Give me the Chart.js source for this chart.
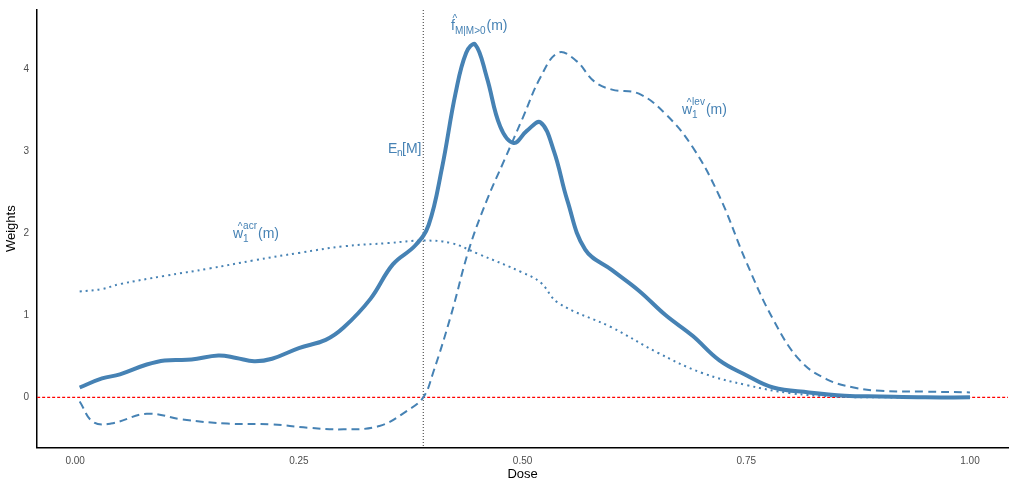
<!DOCTYPE html>
<html>
<head>
<meta charset="utf-8">
<script src="https://cdn.jsdelivr.net/npm/chart.js@4"></script>
<style>
  body { margin: 0; background: #fff; }
  #wrap { width: 1010px; height: 482px; }
</style>
</head>
<body>
<div id="wrap"><canvas id="chart"></canvas></div>
<script>
// ===== Data =====
const fDose = [0.005, 0.03, 0.05, 0.08, 0.1, 0.13, 0.16, 0.18, 0.2, 0.22, 0.25, 0.28, 0.3, 0.33, 0.355, 0.38, 0.395, 0.41, 0.425, 0.437, 0.447, 0.46, 0.475, 0.49, 0.505, 0.52, 0.535, 0.55, 0.57, 0.6, 0.63, 0.66, 0.69, 0.72, 0.75, 0.78, 0.82, 0.86, 0.9, 0.95, 1.0];
const fVals = [0.12, 0.23, 0.28, 0.4, 0.45, 0.46, 0.51, 0.48, 0.44, 0.47, 0.6, 0.7, 0.85, 1.2, 1.62, 1.85, 2.1, 2.8, 3.7, 4.2, 4.3, 3.9, 3.3, 3.1, 3.25, 3.35, 3.0, 2.4, 1.8, 1.55, 1.3, 1.0, 0.75, 0.45, 0.27, 0.12, 0.06, 0.02, 0.01, 0.0, 0.0];

const levDose = [0.005, 0.02, 0.04, 0.08, 0.12, 0.17, 0.22, 0.26, 0.3, 0.34, 0.37, 0.389, 0.4, 0.42, 0.44, 0.46, 0.48, 0.5, 0.52, 0.54, 0.56, 0.58, 0.6, 0.63, 0.66, 0.69, 0.72, 0.75, 0.78, 0.81, 0.84, 0.87, 0.9, 0.95, 1.0];
const levVals = [-0.05, -0.3, -0.32, -0.2, -0.27, -0.32, -0.33, -0.37, -0.39, -0.35, -0.17, 0.0, 0.3, 1.0, 1.8, 2.4, 2.9, 3.4, 3.9, 4.2, 4.1, 3.85, 3.75, 3.7, 3.45, 3.05, 2.45, 1.65, 0.95, 0.45, 0.22, 0.12, 0.08, 0.07, 0.06];

const acrDose = [0.005, 0.03, 0.05, 0.1, 0.15, 0.2, 0.25, 0.3, 0.35, 0.389, 0.42, 0.45, 0.5, 0.52, 0.54, 0.6, 0.65, 0.7, 0.75, 0.8, 0.85, 0.9, 1.0];
const acrVals = [1.29, 1.32, 1.38, 1.48, 1.57, 1.67, 1.76, 1.84, 1.88, 1.91, 1.88, 1.75, 1.52, 1.4, 1.15, 0.85, 0.55, 0.3, 0.15, 0.05, 0.01, 0.0, 0.0];

const meanDose = 0.389;
const xTicks = [0, 0.25, 0.5, 0.75, 1.0];
const yTicks = [0, 1, 2, 3, 4];

const blue = '#4682B4';
const pts = (xs, ys) => xs.map((x, i) => ({ x, y: ys[i] }));

// ===== Labels with hats / sub / superscripts =====
function hatLabel(ctx, x, y, base, sub, sup, tail) {
  ctx.fillStyle = blue;
  ctx.textBaseline = 'alphabetic';
  ctx.textAlign = 'left';
  ctx.font = '14px "Liberation Sans", Arial, sans-serif';
  const bw = ctx.measureText(base).width;
  ctx.fillText(base, x, y);
  ctx.font = '10px "Liberation Sans", Arial, sans-serif';
  ctx.textAlign = 'center';
  ctx.fillText('^', x + bw / 2 + 2, y - 8);
  ctx.textAlign = 'left';
  let w = 0;
  if (sub) {
    ctx.font = '10px "Liberation Sans", Arial, sans-serif';
    ctx.fillText(sub, x + bw, y + 4);
    w = ctx.measureText(sub).width;
  }
  if (sup) {
    ctx.font = '10px "Liberation Sans", Arial, sans-serif';
    ctx.fillText(sup, x + bw, y - 9);
    w = Math.max(w, ctx.measureText(sup).width);
  }
  ctx.font = '14px "Liberation Sans", Arial, sans-serif';
  ctx.fillText(tail, x + bw + w + 1, y);
}

const annotate = {
  id: 'annotate',
  afterDatasetsDraw(chart) {
    const { ctx } = chart;
    ctx.save();
    hatLabel(ctx, 451, 30, 'f', 'M|M>0', null, '(m)');
    hatLabel(ctx, 233, 238, 'w', '1', 'acr', '(m)');
    hatLabel(ctx, 682, 114, 'w', '1', 'lev', '(m)');
    // E_n[M]
    ctx.fillStyle = blue;
    ctx.font = '14px "Liberation Sans", Arial, sans-serif';
    ctx.fillText('E', 388, 153);
    ctx.font = '10px "Liberation Sans", Arial, sans-serif';
    ctx.fillText('n', 397, 156);
    ctx.font = '14px "Liberation Sans", Arial, sans-serif';
    ctx.fillText('[M]', 402, 153);
    ctx.restore();
  },
  beforeDatasetsDraw(chart) {
    const { ctx, scales, chartArea } = chart;
    const sx = scales.x, sy = scales.y;
    ctx.save();
    ctx.lineWidth = 1;
    ctx.setLineDash([1, 2]);
    ctx.strokeStyle = '#333';
    const mx = sx.getPixelForValue(meanDose);
    ctx.beginPath();
    ctx.moveTo(mx, chartArea.top);
    ctx.lineTo(mx, chartArea.bottom);
    ctx.stroke();
    ctx.lineWidth = 1.2;
    ctx.strokeStyle = '#ff0000';
    ctx.setLineDash([3, 2]);
    const zy = sy.getPixelForValue(0);
    ctx.beginPath();
    ctx.moveTo(chartArea.left, zy);
    ctx.lineTo(chartArea.right, zy);
    ctx.stroke();
    ctx.restore();
  }
};

new Chart(document.getElementById('chart'), {
  type: 'line',
  data: {
    datasets: [
      { data: pts(acrDose, acrVals), borderColor: blue, borderWidth: 2, borderDash: [2, 4], tension: 0.4, pointRadius: 0 },
      { data: pts(levDose, levVals), borderColor: blue, borderWidth: 2, borderDash: [8, 5], tension: 0.4, pointRadius: 0 },
      { data: pts(fDose, fVals), borderColor: blue, borderWidth: 4, tension: 0.4, pointRadius: 0 },
    ],
  },
  plugins: [annotate],
  options: {
    responsive: true,
    maintainAspectRatio: false,
    animation: false,
    layout: { padding: { top: 5, right: 2, left: 4, bottom: 0 } },
    plugins: { legend: { display: false }, tooltip: { enabled: false } },
    scales: {
      x: {
        type: 'linear', min: -0.0425, max: 1.0425,
        afterBuildTicks: (s) => { s.ticks = xTicks.map((v) => ({ value: v })); },
        ticks: { callback: (v) => v.toFixed(2), color: '#4d4d4d', font: { size: 10 }, maxRotation: 0, padding: 4 },
        grid: { display: false, tickLength: 4, color: '#333' },
        border: { color: '#000', width: 1.5 },
        title: { display: true, text: 'Dose', color: '#000', font: { size: 13 }, padding: { top: -5, bottom: 0 } },
      },
      y: {
        min: -0.61, max: 4.72,
        afterBuildTicks: (s) => { s.ticks = yTicks.map((v) => ({ value: v })); },
        ticks: { color: '#4d4d4d', font: { size: 10 }, padding: 4 },
        grid: { display: false, tickLength: 4, color: '#333' },
        border: { color: '#000', width: 1.5 },
        title: { display: true, text: 'Weights', color: '#000', font: { size: 13 }, padding: 0 },
      },
    },
  },
});
</script>
</body>
</html>
